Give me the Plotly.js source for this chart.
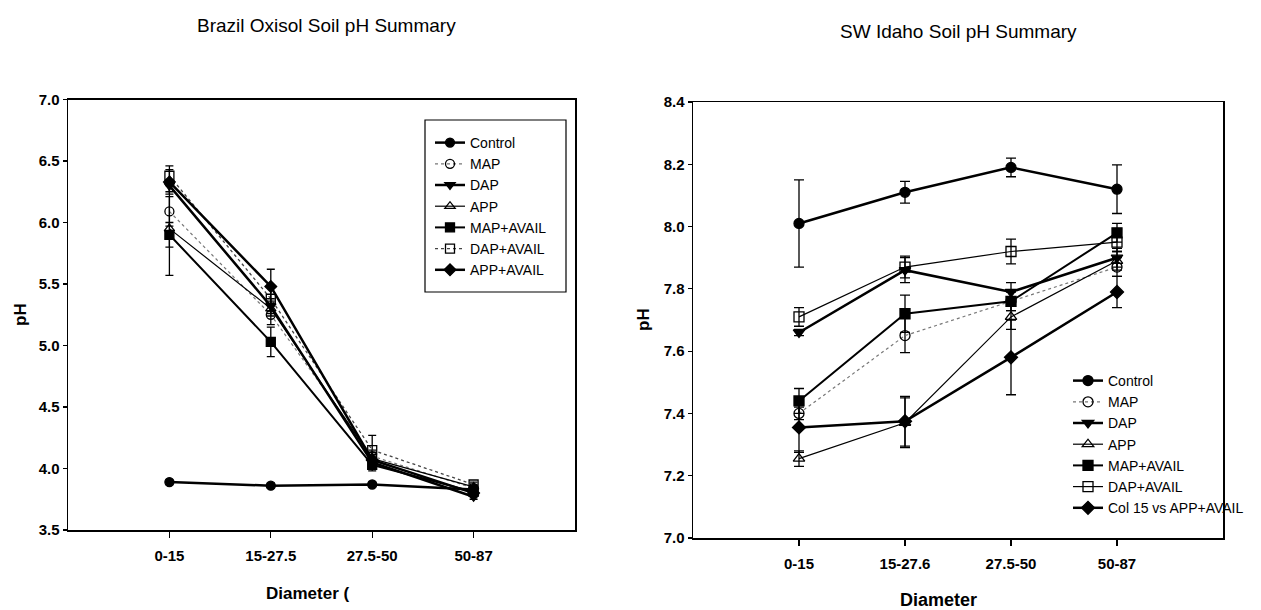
<!DOCTYPE html>
<html>
<head>
<meta charset="utf-8">
<script src="https://cdn.plot.ly/plotly-3.0.1.min.js"></script>
<style>html,body{margin:0;padding:0;background:#fff;}#chart{width:1261px;height:610px;}</style>
</head>
<body>
<div id="chart"></div>
<script>
// ---------- data ----------
const seriesNames = ['Control', 'MAP', 'DAP', 'APP', 'MAP+AVAIL', 'DAP+AVAIL', 'APP+AVAIL'];
const seriesNamesIdaho = ['Control', 'MAP', 'DAP', 'APP', 'MAP+AVAIL', 'DAP+AVAIL', 'Col 15 vs APP+AVAIL'];

const catsBrazil = ['0-15', '15-27.5', '27.5-50', '50-87'];
const catsIdaho = ['0-15', '15-27.6', '27.5-50', '50-87'];

// Brazil Oxisol pH
const brControl = [3.89, 3.86, 3.87, 3.83];
const brMAP = [6.09, 5.25, 4.10, 3.84];
const brDAP = [6.30, 5.32, 4.05, 3.77];
const brAPP = [5.95, 5.30, 4.08, 3.85];
const brMAPAV = [5.90, 5.03, 4.03, 3.81];
const brDAPAV = [6.38, 5.38, 4.15, 3.87];
const brAPPAV = [6.33, 5.48, 4.07, 3.80];
// Brazil error bars
const brControlErr = [0.02, 0.02, 0.02, 0.02];
const brMAPErr = [0.12, 0.08, 0.05, 0.02];
const brDAPErr = [0.05, 0.06, 0.05, 0.02];
const brAPPErr = [0.38, 0.06, 0.05, 0.02];
const brMAPAVErr = [0.10, 0.12, 0.05, 0.03];
const brDAPAVErr = [0.08, 0.10, 0.12, 0.02];
const brAPPAVErr = [0.10, 0.14, 0.06, 0.03];

// SW Idaho pH
const idControl = [8.01, 8.11, 8.19, 8.12];
const idMAP = [7.40, 7.65, 7.76, 7.87];
const idDAP = [7.66, 7.86, 7.79, 7.90];
const idAPP = [7.255, 7.37, 7.71, 7.89];
const idMAPAV = [7.44, 7.72, 7.76, 7.98];
const idDAPAV = [7.71, 7.87, 7.92, 7.95];
const idAPPAV = [7.355, 7.375, 7.58, 7.79];
// SW Idaho error bars
const idControlErr = [0.14, 0.035, 0.03, 0.078];
const idMAPErr = [0.02, 0.055, 0.03, 0.03];
const idDAPErr = [0.01, 0.04, 0.03, 0.03];
const idAPPErr = [0.025, 0.08, 0.04, 0.03];
const idMAPAVErr = [0.04, 0.06, 0.03, 0.03];
const idDAPAVErr = [0.03, 0.035, 0.04, 0.03];
const idAPPAVErr = [0.08, 0.08, 0.12, 0.05];

// ---------- styles ----------
const W = 1261, H = 610;
const px = v => v / W;
const py = v => 1 - v / H;
const FONT = 'Liberation Sans, Arial, sans-serif';

const styles = [
  {symbol: 'circle', line: {color: '#000', width: 2.5, dash: 'solid'}},
  {symbol: 'circle-open', line: {color: '#777', width: 1.2, dash: 'dot'}},
  {symbol: 'triangle-down', line: {color: '#000', width: 2.5, dash: 'solid'}},
  {symbol: 'triangle-up-open', line: {color: '#000', width: 1.2, dash: 'solid'}},
  {symbol: 'square', line: {color: '#000', width: 2, dash: 'solid'}},
  {symbol: 'square-open', line: {color: '#444', width: 1.3, dash: 'dot'}},
  {symbol: 'diamond', line: {color: '#000', width: 2.5, dash: 'solid'}}
];

const brVals = [brControl, brMAP, brDAP, brAPP, brMAPAV, brDAPAV, brAPPAV];
const brErrs = [brControlErr, brMAPErr, brDAPErr, brAPPErr, brMAPAVErr, brDAPAVErr, brAPPAVErr];
const idVals = [idControl, idMAP, idDAP, idAPP, idMAPAV, idDAPAV, idAPPAV];
const idErrs = [idControlErr, idMAPErr, idDAPErr, idAPPErr, idMAPAVErr, idDAPAVErr, idAPPAVErr];

const traces = [];
seriesNames.forEach((name, i) => {
  traces.push({
    type: 'scatter', mode: 'lines+markers', name: name,
    x: catsBrazil, y: brVals[i], xaxis: 'x', yaxis: 'y', legend: 'legend',
    line: styles[i].line,
    marker: {symbol: styles[i].symbol, size: 9, color: '#000', line: {color: '#000', width: 1.3}},
    error_y: {type: 'data', array: brErrs[i], visible: true, color: '#000', thickness: 1.3, width: 4}
  });
});
seriesNamesIdaho.forEach((name, i) => {
  const ln = Object.assign({}, styles[i].line);
  if (i === 5) { ln.dash = 'solid'; ln.color = '#000'; ln.width = 1.2; }
  traces.push({
    type: 'scatter', mode: 'lines+markers', name: name,
    x: catsIdaho, y: idVals[i], xaxis: 'x2', yaxis: 'y2', legend: 'legend2',
    line: ln,
    marker: {symbol: styles[i].symbol, size: 10, color: '#000', line: {color: '#000', width: 1.3}},
    error_y: {type: 'data', array: idErrs[i], visible: true, color: '#000', thickness: 1.3, width: 5}
  });
});

const axisCommon = {
  showline: true, mirror: true, linecolor: '#000', linewidth: 1.5,
  showgrid: false, zeroline: false, ticks: 'outside', ticklen: 4, tickwidth: 1.2, tickcolor: '#000',
  tickfont: {family: FONT, size: 15, color: '#000', weight: 'bold'}
};

const layout = {
  width: W, height: H,
  margin: {l: 0, r: 0, t: 0, b: 0},
  paper_bgcolor: '#fff', plot_bgcolor: '#fff',
  font: {family: FONT, color: '#000'},
  xaxis: Object.assign({}, axisCommon, {domain: [px(68), px(575)], anchor: 'y', type: 'category', range: [-1, 4], ticklen: 6, ticklabelstandoff: 5}),
  yaxis: Object.assign({}, axisCommon, {domain: [py(530), py(99.5)], anchor: 'x', range: [3.5, 7.0], dtick: 0.5, tickformat: '.1f'}),
  xaxis2: Object.assign({}, axisCommon, {domain: [px(693), px(1223)], anchor: 'y2', type: 'category', range: [-1, 4], ticklen: 6, ticklabelstandoff: 5}),
  yaxis2: Object.assign({}, axisCommon, {domain: [py(538), py(102)], anchor: 'x2', range: [7.0, 8.4], dtick: 0.2, tickformat: '.1f'}),
  legend: {x: px(430), y: py(127), xanchor: 'left', yanchor: 'top', bgcolor: 'rgba(0,0,0,0)', borderwidth: 0,
           font: {family: FONT, size: 14, color: '#000'}},
  legend2: {x: px(1068), y: py(365), xanchor: 'left', yanchor: 'top', bgcolor: 'rgba(0,0,0,0)', borderwidth: 0,
            font: {family: FONT, size: 14, color: '#000'}},
  shapes: [
    {type: 'rect', xref: 'paper', yref: 'paper', x0: px(425), x1: px(566), y0: py(292), y1: py(120),
     line: {color: '#000', width: 1.2}, fillcolor: 'rgba(0,0,0,0)'}
  ],
  annotations: [
    {text: 'Brazil Oxisol Soil pH Summary', xref: 'paper', yref: 'paper', x: px(326), y: py(25), showarrow: false,
     xanchor: 'center', yanchor: 'middle', font: {family: FONT, size: 19, color: '#000'}},
    {text: 'SW Idaho Soil pH Summary', xref: 'paper', yref: 'paper', x: px(958), y: py(31), showarrow: false,
     xanchor: 'center', yanchor: 'middle', font: {family: FONT, size: 19, color: '#000'}},
    {text: 'pH', xref: 'paper', yref: 'paper', x: px(20), y: py(315), showarrow: false, textangle: -90,
     xanchor: 'center', yanchor: 'middle', font: {family: FONT, size: 17, color: '#000', weight: 'bold'}},
    {text: 'pH', xref: 'paper', yref: 'paper', x: px(643), y: py(320), showarrow: false, textangle: -90,
     xanchor: 'center', yanchor: 'middle', font: {family: FONT, size: 17, color: '#000', weight: 'bold'}},
    {text: 'Diameter (', xref: 'paper', yref: 'paper', x: px(307), y: py(593), showarrow: false,
     xanchor: 'center', yanchor: 'middle', font: {family: FONT, size: 17, color: '#000', weight: 'bold'}},
    {text: 'Diameter', xref: 'paper', yref: 'paper', x: px(938), y: py(600), showarrow: false,
     xanchor: 'center', yanchor: 'middle', font: {family: FONT, size: 18, color: '#000', weight: 'bold'}}
  ]
};

Plotly.newPlot('chart', traces, layout, {displayModeBar: false, staticPlot: true});
</script>
</body>
</html>
